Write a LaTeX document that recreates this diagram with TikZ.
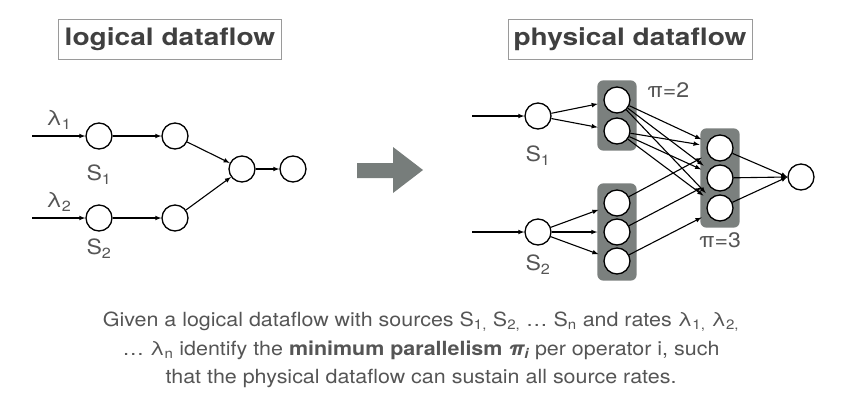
\documentclass[tikz,border=0pt]{standalone}
\usepackage{fontspec}
\setmainfont{TeX Gyre Heros}
\newfontfamily\headfont[FakeStretch=1.17]{TeX Gyre Heros}
\newfontfamily\bodyfont[FakeStretch=1.1]{TeX Gyre Heros}
\usetikzlibrary{fit,backgrounds}
\definecolor{boxgray}{HTML}{7B807E}
\definecolor{arrowgray}{HTML}{777D7B}
\definecolor{txtgray}{HTML}{555555}
\definecolor{titlegray}{HTML}{404040}
\definecolor{framegray}{HTML}{9A9A9A}

\begin{document}
\begin{tikzpicture}[x=1pt, y=-1pt, node distance=76pt, >=latex,
    op/.style={circle, draw, line width=1.3pt, fill=white, minimum size=26pt, inner sep=0pt},
    grp/.style={fill=boxgray, rounded corners=6pt, inner sep=6pt},
    lbl/.style={text=txtgray, font=\bodyfont\fontsize{21}{21}\selectfont},
    title/.style={draw=framegray, line width=0.8pt, text=titlegray, inner sep=0pt,
      font=\headfont\fontsize{24}{24}\selectfont\bfseries, minimum width=223pt, minimum height=40pt}]
    \useasboundingbox (0,0) rectangle (842,410);
    \node[title] (t1) at (170,39) {logical dataflow};
    \node[title, minimum width=244pt] (t2) at (630,39) {physical dataflow};
    % logical dataflow
    \node[op, label={[lbl, label distance=12pt]below:{S\textsubscript{1}}}] (1) at (99,136) {};
    \node[op] (2) [right of=1] {};
    \node[op, label={[lbl, label distance=4pt]below:{S\textsubscript{2}}}] (3) [below of=1, node distance=82pt] {};
    \node[op] (4) [right of=3] {};
    \node[op] (5) at (242,169) {};
    \node[op] (6) [right of=5, node distance=51pt] {};
    \coordinate (i1) at (32,136);
    \coordinate (i2) at (32,218);
    % physical dataflow
    \node[op, label={[lbl, label distance=13pt]below:{S\textsubscript{1}}}] (7) at (538,116) {};
    \node[op, label={[lbl, label distance=6pt]below:{S\textsubscript{2}}}] (8) [below of=7, node distance=116pt] {};
    \node[op] (9) at (617,100) {};
    \node[op] (10) [below of=9, node distance=31pt] {};
    \node[op] (11) at (617,203) {};
    \node[op] (12) [below of=11, node distance=29pt] {};
    \node[op] (13) [below of=12, node distance=29pt] {};
    \node[op] (14) at (720,148) {};
    \node[op] (15) [below of=14, node distance=30pt] {};
    \node[op] (16) [below of=15, node distance=30pt] {};
    \node[op] (17) at (801,177) {};
    \coordinate (i3) at (472,116);
    \coordinate (i4) at (472,232);
    \begin{scope}[on background layer]
        \node[grp, fit=(9)(10)] (g1) {};
        \node[grp, fit=(11)(13)] (g2) {};
        \node[grp, fit=(14)(16)] (g3) {};
    \end{scope}
    \node[lbl, anchor=west] (p2) at ([xshift=7pt, yshift=-10pt]g1.north east) {π=2};
    \node[lbl, below=1pt] (p3) at (g3.south) {π=3};
    % big arrow
    \fill[arrowgray] (357,163) -- (393,163) -- (393,147) -- (423,170) -- (393,193) -- (393,178) -- (357,178) -- cycle;
\begin{scope}[line width=1.1pt, ->]
    \draw (i1) -- (1) node[lbl, above=3pt, pos=0.5] (l1) {λ\textsubscript{1}};
    \draw (i2) -- (3) node[lbl, above=3pt, pos=0.5] (l2) {λ\textsubscript{2}};
    \draw (1) -- (2);
    \draw (3) -- (4);
    \draw (2) -- (5);
    \draw (4) -- (5);
    \draw (5) -- (6);
    \draw (i3) -- (7);
    \draw (i4) -- (8);
    \foreach \t in {9,10} \draw[shorten >=6pt] (7) -- (\t);
    \foreach \t in {11,12,13} \draw[shorten >=6pt] (8) -- (\t);
    \foreach \s in {9,10}
      \foreach \t in {14,15,16} \draw[shorten >=7pt] (\s) -- (\t);
    \draw[shorten >=7pt] (11) -- (14);
    \draw[shorten >=7pt] (12) -- (15);
    \draw[shorten >=7pt] (13) -- (16);
    \foreach \s in {14,15,16} \draw (\s) -- (17.west);
\end{scope}
    \node[lbl, align=center, font=\bodyfont\fontsize{19.5}{28.5}\selectfont] (txt) at (421,350)
      {Given a logical dataflow with sources S\textsubscript{1,} S\textsubscript{2,} … S\textsubscript{n} and rates λ\textsubscript{1,} λ\textsubscript{2,}\\
       … λ\textsubscript{n} identify the \textbf{minimum parallelism \textit{π\textsubscript{i}}} per operator i, such\\
       that the physical dataflow can sustain all source rates.};
\end{tikzpicture}
\end{document}
